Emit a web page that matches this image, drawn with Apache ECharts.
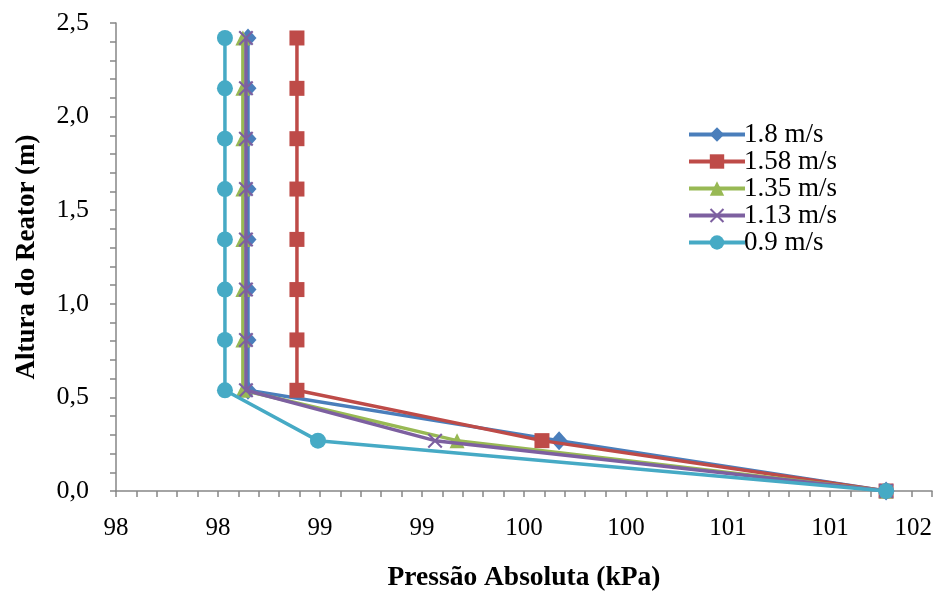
<!DOCTYPE html>
<html>
<head>
<meta charset="utf-8">
<script src="https://cdn.jsdelivr.net/npm/echarts@6/dist/echarts.min.js"></script>
<style>
  html, body { margin: 0; padding: 0; background: #fff; }
  #chart { width: 945px; height: 599px; }
</style>
</head>
<body>
<div id="chart"></div>
<script>
// Reactor height (m) at each measuring point
const heights = [0, 0.269, 0.538, 0.807, 1.076, 1.344, 1.613, 1.882, 2.151, 2.42];

// Absolute pressure (kPa) at each height, per gas velocity
const seriesNames = ['1.8 m/s', '1.58 m/s', '1.35 m/s', '1.13 m/s', '0.9 m/s'];
const p18  = [101.775, 100.172, 98.647, 98.647, 98.647, 98.647, 98.647, 98.647, 98.647, 98.647];
const p158 = [101.775, 100.088, 98.887, 98.887, 98.887, 98.887, 98.887, 98.887, 98.887, 98.887];
const p135 = [101.775, 99.672, 98.622, 98.622, 98.622, 98.622, 98.622, 98.622, 98.622, 98.622];
const p113 = [101.775, 99.564, 98.637, 98.637, 98.637, 98.637, 98.637, 98.637, 98.637, 98.637];
const p09  = [101.775, 98.99, 98.534, 98.534, 98.534, 98.534, 98.534, 98.534, 98.534, 98.534];

// Pressure axis tick labels (whole-number format)
const xTickLabels = ['98', '98', '99', '99', '100', '100', '101', '101', '102'];

const colors = ['#4A7EBB', '#BE4B48', '#98B954', '#7D60A0', '#46AAC5'];
const symbols = [
  'diamond',
  'rect',
  'triangle',
  'path://M0,1 L1,0 L5,4 L9,0 L10,1 L6,5 L10,9 L9,10 L5,6 L1,10 L0,9 L4,5 Z',
  'circle'
];
const symbolSizes = [[17, 19], 15, 15, 15, 16];
const values = [p18, p158, p135, p113, p09];

const font = 'Liberation Serif, "Times New Roman", serif';
const axisGray = '#868686';

const series = seriesNames.map((name, i) => ({
  name: name,
  type: 'line',
  data: values[i].map((p, k) => [p, heights[k]]),
  symbol: symbols[i],
  symbolSize: symbolSizes[i],
  showAllSymbol: true,
  lineStyle: { width: 3.5, color: colors[i] },
  itemStyle: { color: colors[i] },
  emphasis: { disabled: true },
  z: 2 + i
}));

const chart = echarts.init(document.getElementById('chart'), null, { renderer: 'canvas' });
chart.setOption({
  animation: false,
  color: colors,
  grid: {
    left: 116, right: 13, top: 23, bottom: 108,
    containLabel: false, outerBoundsMode: 'none'
  },
  legend: {
    orient: 'vertical',
    left: 682,
    top: 116,
    itemWidth: 56,
    itemHeight: 18,
    itemGap: 0,
    data: seriesNames,
    lineStyle: { width: 4 },
    textStyle: { fontFamily: font, fontSize: 27, lineHeight: 26, height: 26, color: '#000', padding: [0, 0, 0, -6] }
  },
  xAxis: {
    type: 'value',
    min: 98,
    max: 102,
    interval: 0.5,
    name: 'Pressão Absoluta (kPa)',
    nameLocation: 'middle',
    nameGap: 73,
    nameTextStyle: { fontFamily: font, fontSize: 27.5, fontWeight: 'bold', color: '#000' },
    axisLine: { show: true, onZero: false, lineStyle: { color: axisGray, width: 1.5 } },
    axisTick: { show: true, inside: false, length: 6, lineStyle: { color: axisGray, width: 1.5 } },
    minorTick: { show: true, splitNumber: 5, length: 6, lineStyle: { color: axisGray, width: 1.5 } },
    splitLine: { show: false },
    axisLabel: {
      margin: 25,
      fontFamily: font,
      fontSize: 25,
      color: '#000',
      alignMaxLabel: 'right',
      formatter: v => xTickLabels[Math.round((v - 98) / 0.5)]
    }
  },
  yAxis: {
    type: 'value',
    min: 0,
    max: 2.5,
    interval: 0.5,
    name: 'Altura do Reator (m)',
    nameLocation: 'middle',
    nameGap: 75,
    nameRotate: 90,
    nameTextStyle: { fontFamily: font, fontSize: 27, fontWeight: 'bold', color: '#000' },
    axisLine: { show: true, onZero: false, lineStyle: { color: axisGray, width: 1.5 } },
    axisTick: { show: true, inside: false, length: 6, lineStyle: { color: axisGray, width: 1.5 } },
    minorTick: { show: true, splitNumber: 5, length: 6, lineStyle: { color: axisGray, width: 1.5 } },
    splitLine: { show: false },
    axisLabel: {
      margin: 27,
      fontFamily: font,
      fontSize: 26,
      color: '#000',
      formatter: v => v.toFixed(1).replace('.', ',')
    }
  },
  series: series
});
</script>
</body>
</html>
